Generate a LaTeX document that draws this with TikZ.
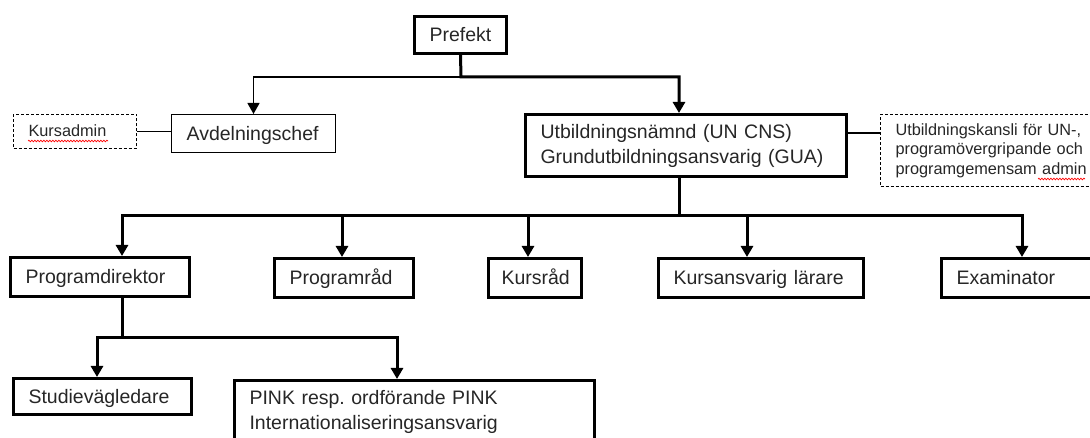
\documentclass[tikz,border=0pt]{standalone}
\usepackage{fontspec}
\setmainfont{Liberation Sans}
\frenchspacing
\usetikzlibrary{arrows.meta,decorations.pathmorphing}

\begin{document}
\begin{tikzpicture}[
        x=1pt, y=-1pt,
        font=\fontsize{19.5}{25}\selectfont,
        tbox/.style={draw, line width=3pt, anchor=north west, align=left, inner xsep=15pt, inner ysep=0pt, text=black!85},
        nbox/.style={draw, line width=1.3pt, anchor=north west, align=left, inner xsep=15pt, inner ysep=0pt, text=black!85},
        dbox/.style={draw, line width=1pt, dash pattern=on 3pt off 2pt, anchor=north west, align=left, inner xsep=15pt, inner ysep=0pt, text=black!85, font=\fontsize{16.3}{19.5}\selectfont},
        oneline/.style={text height=18pt, text depth=4pt},
        thickline/.style={line width=3pt},
        thinline/.style={line width=1.3pt},
        arrow/.style={thickline, -{Triangle[width=12pt,length=11pt]}},
        thinarrow/.style={thinline, -{Triangle[width=12pt,length=11pt]}},
        wavy/.style={red, line width=0.7pt, decorate, decoration={snake, amplitude=0.8pt, segment length=3pt}}
    ]
    \useasboundingbox (0,0) rectangle (1090,438);

    % ledning
    \node[tbox, oneline, minimum height=37pt, text width=62pt] (prefekt) at (413,15) {Prefekt};
    \node[nbox, oneline, minimum height=37.7pt, text width=133.7pt] (avd) at (171,114) {Avdelningschef};
    \node[dbox, text height=14pt, text depth=3pt, minimum height=34pt, text width=93pt] (kursadmin) at (13,114) {Kursadmin};
    \node[tbox, minimum height=62pt, text width=291pt] (un) at (524,113) {Utbildningsnämnd (UN CNS)\\Grundutbildningsansvarig (GUA)};
    \node[dbox, minimum height=72pt, text width=200pt] (kansli) at (880,114) {Utbildningskansli för UN-,\\programövergripande och\\programgemensam admin};

    % funktioner under UN
    \node[tbox, oneline, minimum height=39pt, text width=149pt] (progdir) at (9,256) {Programdirektor};
    \node[tbox, oneline, minimum height=39pt, text width=109pt] (progrrad) at (273,257) {Programråd};
    \node[tbox, oneline, minimum height=39pt, text width=67pt, inner xsep=13pt] (kursrad) at (487,257) {Kursråd};
    \node[tbox, oneline, minimum height=39pt, text width=175pt] (kursansv) at (657,257) {Kursansvarig lärare};
    \node[tbox, oneline, minimum height=39pt, text width=120pt] (exam) at (940,257) {Examinator};

    % under programdirektor
    \node[tbox, oneline, minimum height=36pt, text width=148pt] (studie) at (12,377) {Studievägledare};
    \node[tbox, minimum height=62pt, text width=330pt] (pink) at (233,379) {PINK resp. ordförande PINK\\Internationaliseringsansvarig};

    % kopplingspunkter
    \coordinate (pj) at (461,77);
    \coordinate (bus) at (679,216);
    \coordinate (d1) at (122,216);
    \coordinate (d2) at (342,216);
    \coordinate (d3) at (528,216);
    \coordinate (d4) at (747,216);
    \coordinate (d5) at (1022,216);
    \coordinate (c1) at (122,338);
    \coordinate (c2) at (97,338);
    \coordinate (c3) at (397,338);

    % pilar
    \draw[thinarrow] (pj) -| (avd.north);
    \draw[arrow] (prefekt.south) -- (pj) -| ([xshift=-7pt]un.north);
    \draw[thinline] (kursadmin.east) -- (kursadmin.east -| avd.west);
    \draw[thinline] ([yshift=12.5pt]un.east) -- ([yshift=12.5pt]un.east -| kansli.west);

    \draw[thickline] ([xshift=-7pt]un.south) -- (bus);
    \draw[arrow] (bus) -| (d1 |- progdir.north);
    \draw[arrow] (bus) -| (d5 |- exam.north);
    \foreach \d/\n in {d2/progrrad, d3/kursrad, d4/kursansv}
        \draw[arrow] (\d) -- (\d |- \n.north);

    \draw[thickline] (c1 |- progdir.south) -- (c1);
    \draw[arrow] (c1) -| (c2 |- studie.north);
    \draw[arrow] (c1) -| (c3 |- pink.north);

    % stavningsmarkeringar
    \draw[wavy] (28,141) -- (108,141);
    \draw[wavy] (1038,179) -- (1085,179);

\end{tikzpicture}
\end{document}
